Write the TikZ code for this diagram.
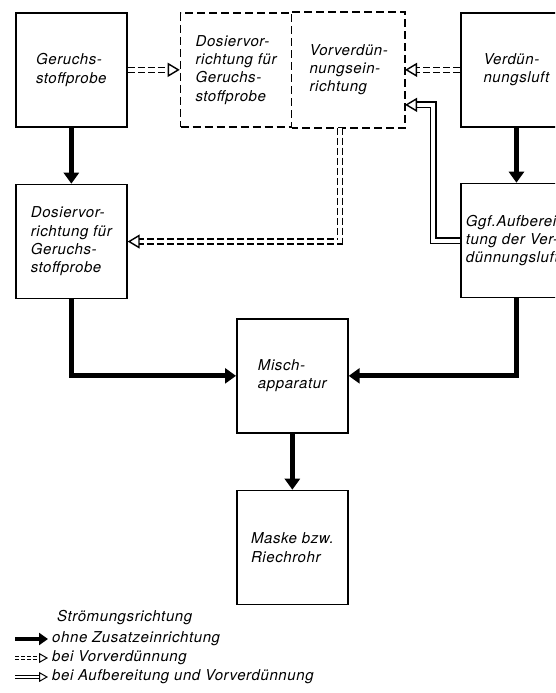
\documentclass[tikz,border=0pt]{standalone}
\usepackage{fontspec}
\setmainfont[LetterSpace=4]{TeX Gyre Heros}
\usetikzlibrary{positioning, arrows.meta}

\begin{document}
\begin{tikzpicture}[
    x=1pt, y=-1pt,
    every node/.style={font=\fontsize{15}{18.3}\selectfont\itshape},
    block/.style={draw, line width=1.7pt, rectangle, minimum width=111pt, minimum height=114pt, align=left, inner sep=0pt},
    dblock/.style={block, dash pattern=on 8pt off 4pt},
    flow/.style={-{Triangle[length=11pt, width=15pt]}, line width=4.8pt},
    predil/.style={double, double distance=3.5pt, line width=1.4pt, dash pattern=on 7pt off 3pt, -{Triangle[open, length=12pt, width=14pt]}},
    treat/.style={double, double distance=4pt, line width=1.4pt, -{Triangle[open, length=12pt, width=14pt]}},
    legtext/.style={anchor=west, inner xsep=0pt}
]
\clip (0,0) rectangle (555,693);

\node[block, anchor=north west] (geruch) at (15,12) {Geruchs-\\stoffprobe};
\node[dblock, right=52pt of geruch] (dosvor) {Dosiervor-\\richtung für\\Geruchs-\\stoffprobe};
\node[block, draw=none, right=0pt of dosvor] (vorverd) {Vorverdün-\\nungsein-\\richtung};
\node[block, right=55pt of vorverd] (verdluft) {Verdün-\\nungsluft};
\node[block, below=56pt of geruch] (dosier) {Dosiervor-\\richtung für\\Geruchs-\\stoffprobe};
\node[block, below=55pt of verdluft, text width=101pt, inner xsep=5pt] (aufber) {Ggf.Aufberei-\\tung der Ver-\\dünnungsluft};
\node[block, anchor=north west] (misch) at (236,318) {Misch-\\apparatur};
\node[block, below=56pt of misch] (maske) {Maske bzw.\\Riechrohr};

% frame of the pre-dilution unit
\draw[line width=1.7pt, dash pattern=on 8pt off 4pt] (dosvor.north east) -- (vorverd.north east) -- (vorverd.south east) -- (dosvor.south east);

\draw[flow] (geruch) -- (dosier);
\draw[flow] (verdluft) -- (aufber);
\draw[flow] (dosier.south) |- (misch.west);
\draw[flow] (aufber.south) |- (misch.east);
\draw[flow] (misch) -- (maske);

\draw[predil] (geruch) -- (dosvor);
\draw[predil] (verdluft) -- (vorverd);
\draw[predil] ([xshift=-9pt]vorverd.south) |- (dosier.east);
\draw[treat] (aufber.west) -- ++(-27pt,0) |- ([yshift=-35pt]vorverd.east);

% legend
\node[legtext] (legtitle) at (57,618) {Strömungsrichtung};
\node[legtext] (leg1) at (52,639) {ohne Zusatzeinrichtung};
\node[legtext] (leg2) at (52,658) {bei Vorverdünnung};
\node[legtext] (leg3) at (52,677) {bei Aufbereitung und Vorverdünnung};
\coordinate (s1) at (15,639);
\coordinate (s2) at (15,658);
\coordinate (s3) at (15,677);
\draw[flow, line width=3.8pt, -{Triangle[length=9pt, width=12pt]}] (s1) -- ([xshift=-4pt]leg1.west);
\draw[predil, double distance=2pt, line width=1pt, dash pattern=on 4pt off 2pt, -{Triangle[open, length=9pt, width=10pt]}] (s2) -- ([xshift=-4pt]leg2.west);
\draw[treat, double distance=2.5pt, line width=1pt, -{Triangle[open, length=9pt, width=10pt]}] (s3) -- ([xshift=-4pt]leg3.west);
\end{tikzpicture}
\end{document}
